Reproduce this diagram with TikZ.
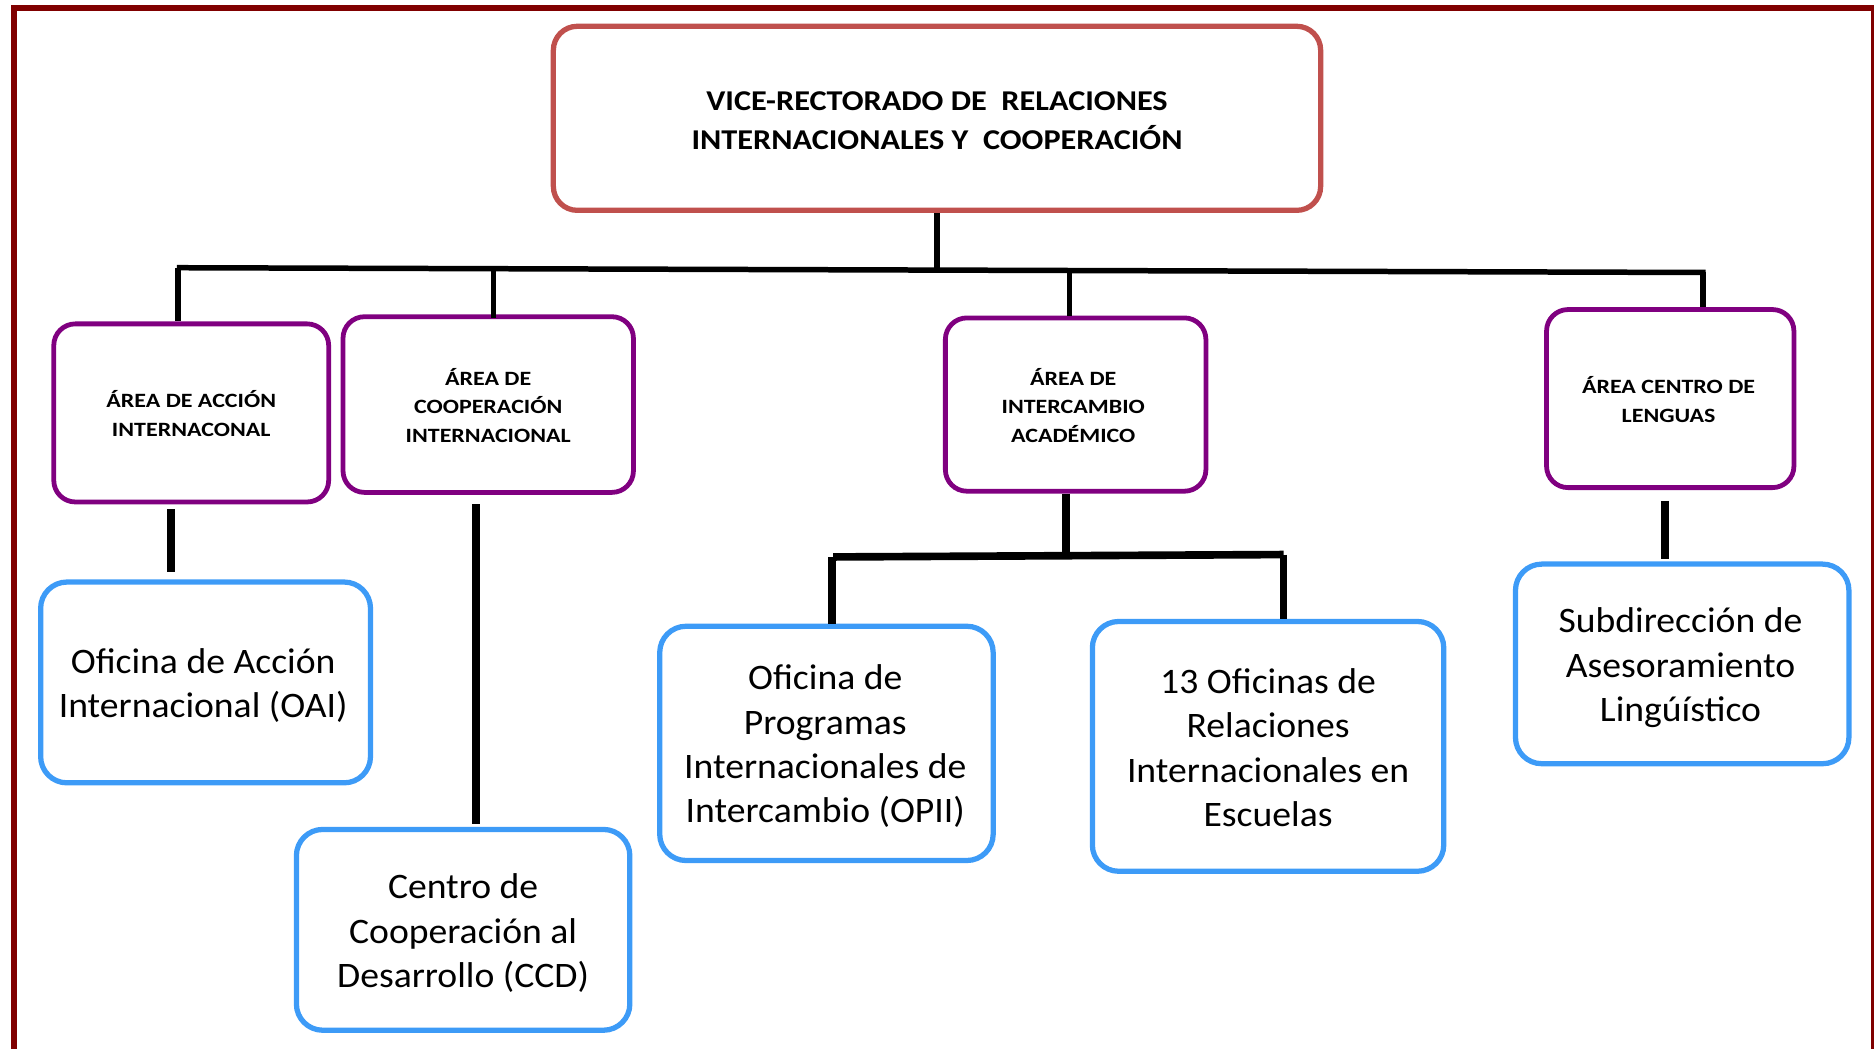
\documentclass[tikz,border=0pt]{standalone}
\usepackage{fontspec}
\setmainfont{Carlito}
\newfontfamily\topfont[FakeStretch=1.125]{Carlito}
\newfontfamily\areafont[FakeStretch=1.18]{Carlito}
\newfontfamily\officefont[FakeStretch=1.05]{Carlito}
\definecolor{framered}{HTML}{800000}
\definecolor{topred}{HTML}{C0504D}
\definecolor{areapurple}{HTML}{800080}
\definecolor{officeblue}{HTML}{3D9BF7}
\tikzset{
  topbox/.style={draw=topred, line width=2.2pt, rounded corners=10pt, inner sep=0pt},
  toptext/.style={align=center, font=\topfont\bfseries\fontsize{12}{16}\selectfont, inner sep=0pt},
  areabox/.style={draw=areapurple, line width=2pt, rounded corners=9pt, inner sep=0pt},
  areatext/.style={align=center, font=\areafont\bfseries\fontsize{8.5}{12}\selectfont, inner sep=0pt},
  officebox/.style={draw=officeblue, line width=2.2pt, rounded corners=11pt, inner sep=0pt},
  officetext/.style={align=center, font=\officefont\fontsize{15}{18.5}\selectfont, inner sep=0pt},
  upconn/.style={draw=black, line width=2.3pt},
  lowconn/.style={draw=black, line width=3.2pt},
}
\begin{document}
\begin{tikzpicture}[x=0.5pt, y=-0.5pt]
\useasboundingbox (0,0) rectangle (1568,877);
% outer frame
\draw[framered, line width=2.4pt] (11.5,7) rectangle (1568,900);

% top box
\node[topbox, minimum width=321pt, minimum height=77pt] (top) at (784,99) {};
\node[toptext] (toptxt) at ([yshift=-1pt]top.center)
  {VICE-RECTORADO DE\ \ RELACIONES\\INTERNACIONALES Y\ \ COOPERACIÓN};

% area boxes
\node[areabox, minimum width=115pt, minimum height=74.5pt] (a1) at (160,345.5) {};
\node[areatext] (a1txt) at ([yshift=-0.3pt]a1.center) {ÁREA DE ACCIÓN\\INTERNACONAL};
\node[areabox, minimum width=121.5pt, minimum height=73.5pt] (a2) at (408.5,338.5) {};
\node[areatext] (a2txt) at ([yshift=-0.3pt]a2.center) {ÁREA DE\\COOPERACIÓN\\INTERNACIONAL};
\node[areabox, minimum width=109pt, minimum height=72.5pt] (a3) at (900,338.5) {};
\node[areatext] (a3txt) at ([xshift=-1pt,yshift=-0.3pt]a3.center) {ÁREA DE\\INTERCAMBIO\\ACADÉMICO};
\node[areabox, minimum width=103.5pt, minimum height=74.5pt] (a4) at (1397.5,333.5) {};
\node[areatext] (a4txt) at ([xshift=-0.7pt,yshift=-0.3pt]a4.center) {ÁREA CENTRO DE\\LENGUAS};

% office boxes
\node[officebox, minimum width=138pt, minimum height=84pt] (oai) at (172,571) {};
\node[officetext] (oaitxt) at ([xshift=-1pt,yshift=-1.2pt]oai.center)
  {Oficina de Acción\\Internacional (OAI)};
\node[officebox, minimum width=139.5pt, minimum height=84pt] (ccd) at (387.5,778) {};
\node[officetext] (ccdtxt) at ([yshift=-1.4pt]ccd.center)
  {Centro de\\Cooperación al\\Desarrollo (CCD)};
\node[officebox, minimum width=139.5pt, minimum height=98pt] (opii) at (691.5,622) {};
\node[officetext] (opiitxt) at ([xshift=-0.5pt,yshift=-1.2pt]opii.center)
  {Oficina de\\Programas\\Internacionales de\\Intercambio (OPII)};
\node[officebox, minimum width=147pt, minimum height=104.5pt] (ori) at (1061,624.5) {};
\node[officetext] (oritxt) at ([yshift=-0.5pt]ori.center)
  {13 Oficinas de\\Relaciones\\Internacionales en\\Escuelas};
\node[officebox, minimum width=139.5pt, minimum height=83.5pt] (sub) at (1407.5,555.5) {};
\node[officetext] (subtxt) at ([xshift=-0.7pt,yshift=-1.6pt]sub.center)
  {Subdirección de\\Asesoramiento\\Lingúístico};

% upper connectors
\coordinate (barL) at (148,224);
\coordinate (barR) at (1427,228);
\coordinate (j0) at (784,226);
\coordinate (j1) at (149,224);
\coordinate (j2) at (413,224.8);
\coordinate (j3) at (895,226.3);
\coordinate (j4) at (1425,228);
\draw[upconn] (top.south) -- (j0);
\draw[upconn] (barL) -- (barR);
\draw[upconn] (j1) -- (j1 |- a1.north);
\draw[upconn] (j2) -- ([yshift=-1.5pt]j2 |- a2.north);
\draw[upconn] (j3) -- (j3 |- a3.north);
\draw[upconn] (j4) -- (j4 |- a4.north);

% lower connectors
\coordinate (k1) at (143,0);
\coordinate (k2) at (398,0);
\coordinate (k4) at (1393,0);
\draw[lowconn] ([yshift=-2pt]k1 |- a1.south) -- ([yshift=3pt]k1 |- oai.north);
\draw[lowconn] ([yshift=-4pt]k2 |- a2.south) -- ([yshift=1pt]k2 |- ccd.north);
\draw[lowconn] ([yshift=-4.5pt]k4 |- a4.south) -- ([yshift=1pt]k4 |- sub.north);

\coordinate (lbL) at (697,466);
\coordinate (lbR) at (1074,464);
\coordinate (l3) at (892,465);
\coordinate (l1) at (696,466);
\coordinate (l2) at (1074,464);
\draw[lowconn] (l3 |- a3.south) -- (l3);
\draw[lowconn] (lbL) -- (lbR);
\draw[lowconn] (l1) -- (l1 |- opii.north);
\draw[lowconn] (l2) -- (l2 |- ori.north);
\end{tikzpicture}
\end{document}
